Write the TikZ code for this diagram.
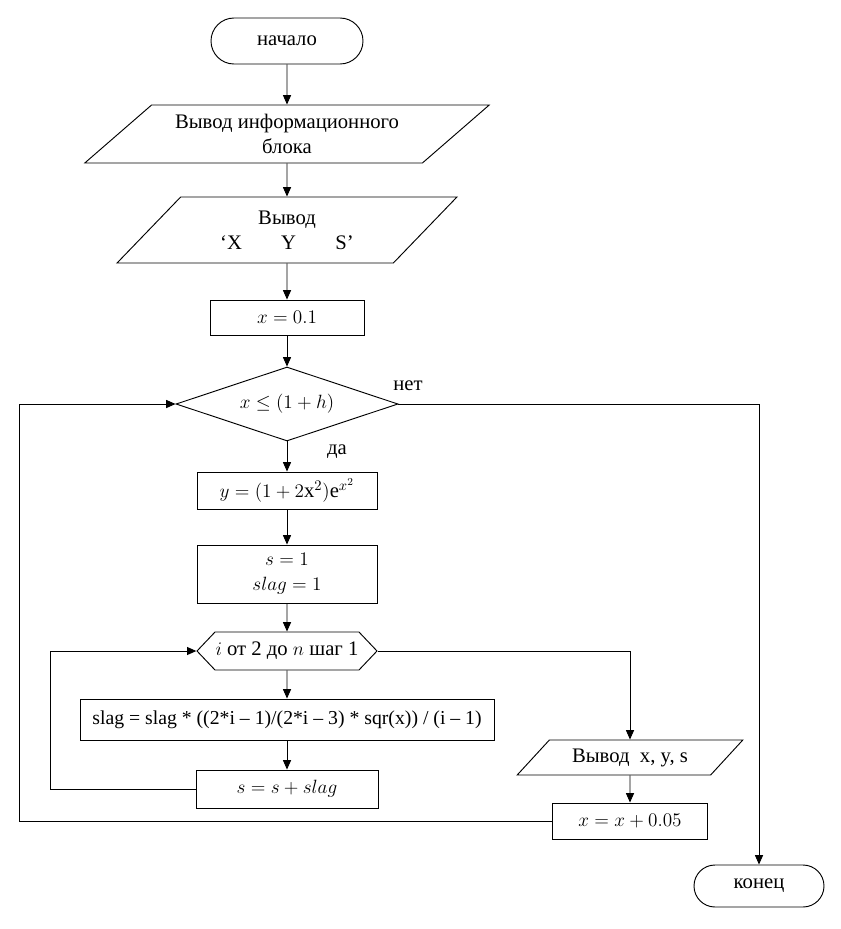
\documentclass[tikz,border=0pt]{standalone}
\usepackage{fontspec}
\setmainfont{Liberation Serif}
\usepackage{tikz}
\usetikzlibrary{arrows.meta,shapes.geometric,shapes.misc,shapes.symbols}
\newcommand{\px}{0.75pt}
\tikzstyle{arrow} = [line width=0.7pt,-{Triangle[length=7pt,width=6pt]}]
\tikzstyle{terminal} = [rounded rectangle, draw, line width=0.7pt, inner sep=0pt]
\tikzstyle{io} = [trapezium, trapezium stretches=true, draw, line width=0.7pt, inner sep=0pt, align=center]
\tikzstyle{process} = [rectangle, draw, line width=0.7pt, inner sep=0pt, align=center]
\tikzstyle{decision} = [diamond, aspect=3, draw, line width=0.7pt, inner sep=0pt]
\tikzstyle{loophead} = [signal, signal to=west and east, signal pointer angle=93, draw, line width=0.7pt, inner sep=0pt]

\begin{document}
\begin{tikzpicture}[x=0.75pt, y=-0.75pt, every node/.style={font=\fontsize{15.5}{18.75}\selectfont}]
\useasboundingbox (0,0) rectangle (841,929);
% main column
\node[terminal, minimum width=152*\px, minimum height=46*\px] (start) at (287,41) {начало};
\node[io, trapezium left angle=35.6, trapezium right angle=144.4, minimum width=405*\px, minimum height=58*\px] (info) at (287,134) {Вывод информационного\\блока};
\node[io, trapezium left angle=44.1, trapezium right angle=135.9, minimum width=340*\px, minimum height=66*\px] (head) at (287,230) {Вывод\\‘X\hspace{1.9em}Y\hspace{1.9em}S’};
\node[process, minimum width=154*\px, minimum height=35*\px] (x0) at (287,317.5) {$x = 0.1$};
\node[decision, minimum width=222*\px, minimum height=74*\px] (cond) at (287,404) {$x \le (1+h)$};
\node[process, minimum width=180*\px, minimum height=37*\px] (fy) at (287,490.5) {$y = (1+2\mathrm{x}^2)\mathrm{e}^{x^2}$};
\node[process, minimum width=180*\px, minimum height=58*\px] (init) at (287,574) {$s = 1$\\$slag = 1$};
\node[loophead, minimum width=180*\px, minimum height=38*\px] (loop) at (287,651) {$i$ от 2 до $n$ шаг 1};
\node[process, minimum width=414*\px, minimum height=41*\px, font=\fontsize{14.8}{18}\selectfont] (slag) at (287,719.5) {slag = slag * ((2*i – 1)/(2*i – 3) * sqr(x)) / (i – 1)};
\node[process, minimum width=182*\px, minimum height=38*\px] (sum) at (287,789) {$s = s + slag$};

% output and step
\node[io, trapezium left angle=37.9, trapezium right angle=142.1, minimum width=226*\px, minimum height=35*\px] (print) at (630,757.5) {Вывод\ \ x, y, s};
\node[process, minimum width=155*\px, minimum height=36*\px] (step) at (630,821) {$x = x + 0.05$};
\node[terminal, minimum width=130*\px, minimum height=42*\px] (end) at (759,886) {конец};

% branch labels
\node (no) at (408,386) {нет};
\node (yes) at (337,452) {да};

\draw[arrow] (start) -- (info);
\draw[arrow] (info) -- (head);
\draw[arrow] (head) -- (x0);
\draw[arrow] (x0) -- (cond);
\draw[arrow] (cond) -- (fy);
\draw[arrow] (fy) -- (init);
\draw[arrow] (init) -- (loop);
\draw[arrow] (loop) -- (slag);
\draw[arrow] (slag) -- (sum);
\draw[arrow] (sum.west) -- ++(-145,0) |- (loop.west);
\draw[arrow] (loop.east) -| (print.north);
\draw[arrow] (print) -- (step);
\draw[arrow] (step.west) -- ++(-533,0) |- (cond.west);
\draw[arrow] (cond.east) -| (end.north);
\end{tikzpicture}
\end{document}
